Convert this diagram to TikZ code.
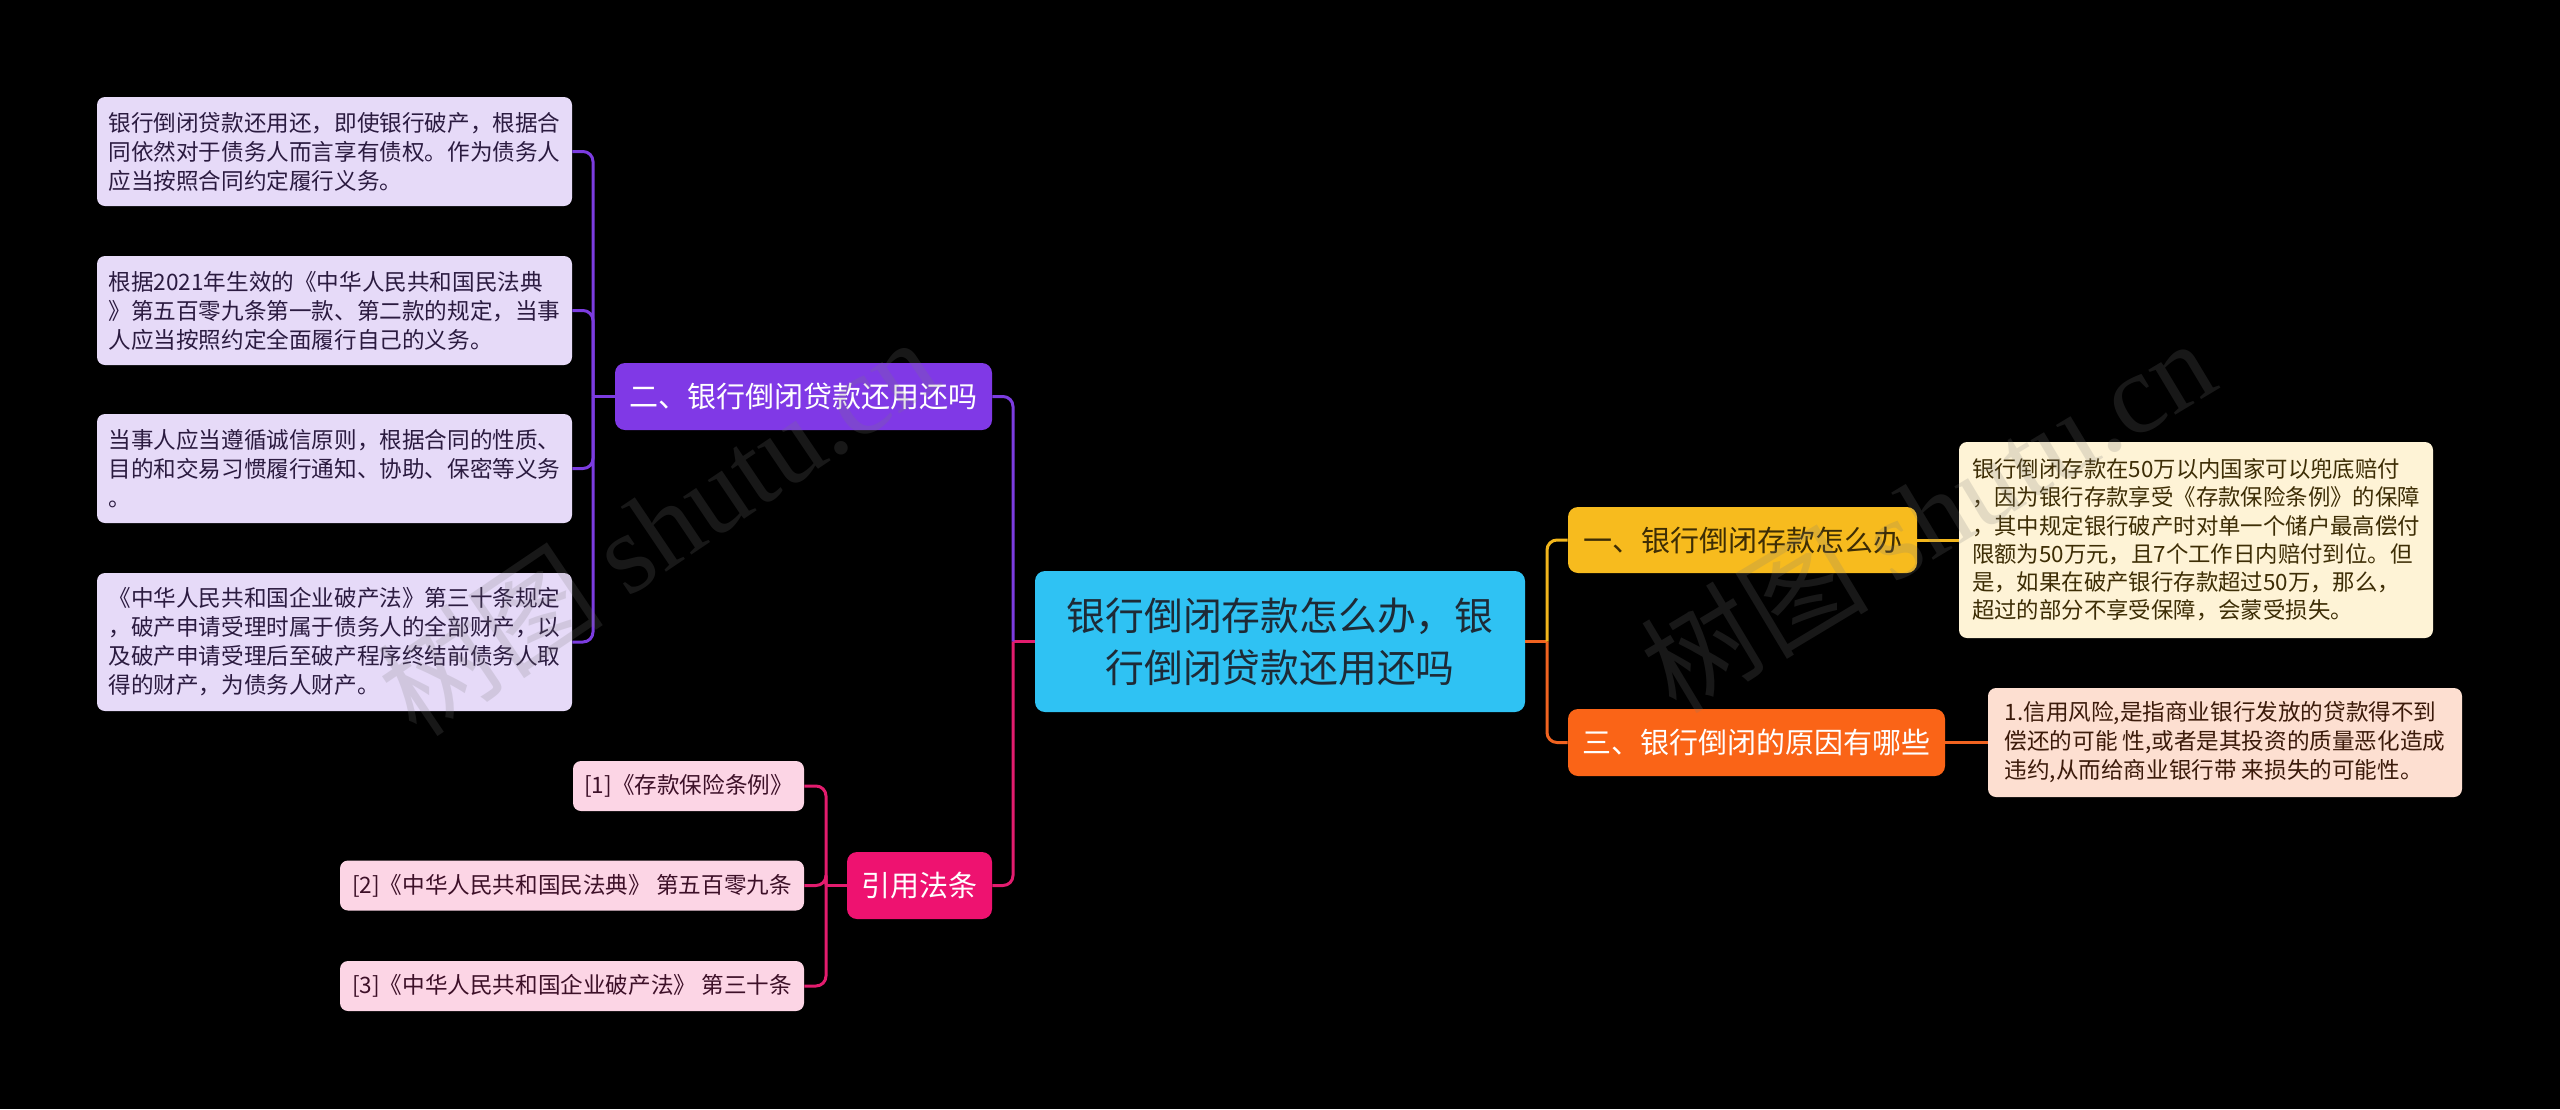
\documentclass[tikz,border=0pt]{standalone}
\usepackage{fontspec}
\setmainfont{Noto Sans CJK SC}
\newfontfamily\cjk{Noto Sans CJK SC}
\newfontfamily\wmserif{Liberation Serif}
\definecolor{cyanbox}{HTML}{2FC2F3}
\definecolor{centertext}{HTML}{1E2A36}
\definecolor{purplebox}{HTML}{8039E6}
\definecolor{purpleline}{HTML}{7C3CE0}
\definecolor{lavender}{HTML}{E6DAF8}
\definecolor{purpletext}{HTML}{2B1B40}
\definecolor{yellowbox}{HTML}{F7BB1E}
\definecolor{yellowline}{HTML}{F2B61C}
\definecolor{yellowtext}{HTML}{3D2D05}
\definecolor{cream}{HTML}{FEF3D6}
\definecolor{orangebox}{HTML}{FA6417}
\definecolor{orangeline}{HTML}{F06320}
\definecolor{peach}{HTML}{FDDFD1}
\definecolor{orangetext}{HTML}{3B1A0A}
\definecolor{pinkbox}{HTML}{EE1270}
\definecolor{pinkline}{HTML}{E21C6E}
\definecolor{pinkleaf}{HTML}{FCD5E5}
\definecolor{pinktext}{HTML}{3D1028}
\definecolor{wmgray}{HTML}{7A7A7A}
\tikzset{
  mainbox/.style={rounded corners=5pt, inner sep=4pt, align=center},
  branchbox/.style={mainbox, font=\fontsize{14.5pt}{18pt}\selectfont},
  leafbox/.style={rounded corners=4pt, inner sep=5pt, align=left, font=\fontsize{11.3pt}{14.5pt}\selectfont},
  refbox/.style={rounded corners=4pt, inner sep=4pt, align=center, fill=pinkleaf, text=pinktext, font=\fontsize{11.3pt}{14.5pt}\selectfont, minimum height=25pt},
  conn/.style={line width=1.5pt, rounded corners=5pt},
  wm/.style={text=wmgray, text opacity=0.2, font=\fontsize{57pt}{60pt}\selectfont}
}
\begin{document}
\begin{tikzpicture}[x=0.5pt,y=-0.5pt]
\fill[black] (0,0) rectangle (2560,1109);
\useasboundingbox (0,0) rectangle (2560,1109);

% central node
\node[mainbox, fill=cyanbox, text=centertext, minimum width=245pt, minimum height=70.5pt,
  font=\fontsize{19.4pt}{26pt}\selectfont] (C) at (1280,641.5)
  {银行倒闭存款怎么办，银\\行倒闭贷款还用还吗};

% branches
\node[branchbox, fill=purplebox, text=white, minimum width=188.5pt, minimum height=33.5pt] (P) at (803.5,396.5) {二、银行倒闭贷款还用还吗};
\node[branchbox, fill=yellowbox, text=yellowtext, minimum width=174.5pt, minimum height=33pt] (Y) at (1742.5,540) {一、银行倒闭存款怎么办};
\node[branchbox, fill=orangebox, text=white, minimum width=188.5pt, minimum height=33.5pt] (O) at (1756.5,742.5) {三、银行倒闭的原因有哪些};
\node[branchbox, fill=pinkbox, text=white, minimum width=72.5pt, minimum height=33.5pt] (R) at (919.5,885.5) {引用法条};

% purple leaves
\node[leafbox, fill=lavender, text=purpletext, minimum width=237.5pt, minimum height=54.5pt] (L1) at (334.5,151.5)
  {银行倒闭贷款还用还，即使银行破产，根据合\\同依然对于债务人而言享有债权。作为债务人\\应当按照合同约定履行义务。};
\node[leafbox, fill=lavender, text=purpletext, minimum width=237.5pt, minimum height=54.5pt] (L2) at (334.5,310.5)
  {根据2021年生效的《中华人民共和国民法典\\》第五百零九条第一款、第二款的规定，当事\\人应当按照约定全面履行自己的义务。};
\node[leafbox, fill=lavender, text=purpletext, minimum width=237.5pt, minimum height=54.5pt] (L3) at (334.5,468.5)
  {当事人应当遵循诚信原则，根据合同的性质、\\目的和交易习惯履行通知、协助、保密等义务\\。};
\node[leafbox, fill=lavender, text=purpletext, minimum width=237.5pt, minimum height=69pt] (L4) at (334.5,642)
  {《中华人民共和国企业破产法》第三十条规定\\，破产申请受理时属于债务人的全部财产，以\\及破产申请受理后至破产程序终结前债务人取\\得的财产，为债务人财产。};

% yellow leaf
\node[leafbox, fill=cream, text=yellowtext, minimum width=237pt, minimum height=98pt,
  font=\fontsize{11.2pt}{14.1pt}\selectfont] (YL) at (2196,540)
  {银行倒闭存款在50万以内国家可以兜底赔付\\，因为银行存款享受《存款保险条例》的保障\\，其中规定银行破产时对单一个储户最高偿付\\限额为50万元，且7个工作日内赔付到位。但\\是，如果在破产银行存款超过50万，那么，\\超过的部分不享受保障，会蒙受损失。};

% orange leaf
\node[leafbox, fill=peach, text=orangetext, minimum width=237pt, minimum height=54.5pt] (OL) at (2225,742.5)
  {1.信用风险,是指商业银行发放的贷款得不到\\偿还的可能 性,或者是其投资的质量恶化造成\\违约,从而给商业银行带 来损失的可能性。};

% pink leaves
\node[refbox, minimum width=115.5pt] (PL1) at (688.5,786) {[1]《存款保险条例》};
\node[refbox, minimum width=232pt] (PL2) at (572,885.5) {[2]《中华人民共和国民法典》 第五百零九条};
\node[refbox, minimum width=232pt] (PL3) at (572,986) {[3]《中华人民共和国企业破产法》 第三十条};

% connectors
\coordinate (cl) at (1013,641.5);
\coordinate (cr) at (1547,641.5);
\coordinate (ptr) at (593,396.5);
\coordinate (rtr) at (826,885.5);

\draw[conn, pinkline] (C.west) -- (cl);
\draw[conn, purpleline] (cl) |- (P.east);
\draw[conn, pinkline] (cl) |- (R.east);

\draw[conn, orangeline] (C.east) -- (cr);
\draw[conn, yellowline] (cr) |- (Y.west);
\draw[conn, orangeline] (cr) |- (O.west);
\draw[conn, yellowline] (Y.east) -- (YL.west);
\draw[conn, orangeline] (O.east) -- (OL.west);

\draw[conn, purpleline] (P.west) -- (ptr);
\foreach \n in {L1,L2,L3,L4} \draw[conn, purpleline] (ptr) |- (\n.east);

\draw[conn, pinkline] (R.west) -- (rtr);
\foreach \n in {PL1,PL2,PL3} \draw[conn, pinkline] (rtr) |- (\n.east);

% watermarks
\node[wm, rotate=34] (w1) at (657,526) {{\cjk 树图} {\wmserif shutu.cn}};
\node[wm, rotate=31] (w2) at (1927,514) {{\cjk 树图} {\wmserif shutu.cn}};
\end{tikzpicture}
\end{document}
